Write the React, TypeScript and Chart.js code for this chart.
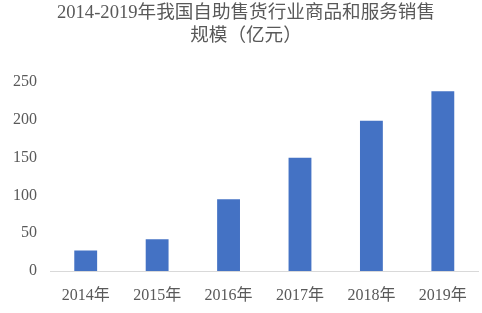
import React, { useEffect, useRef } from "react";
import { Chart, registerables } from "chart.js";

Chart.register(...registerables);

const categories = ["2014年", "2015年", "2016年", "2017年", "2018年", "2019年"];
const salesValues = [27, 42, 95, 150, 199, 238];
const titleLines = ["2014-2019年我国自助售货行业商品和服务销售", "规模（亿元）"];
const yTicks = [0, 50, 100, 150, 200, 250];

const FONT = "'Liberation Serif', 'Noto Sans CJK SC', serif";

export default function App() {
  const ref = useRef<HTMLCanvasElement | null>(null);

  useEffect(() => {
    document.body.style.margin = "0";
    const canvas = ref.current;
    if (!canvas) return;
    const chart = new Chart(canvas, {
      type: "bar",
      data: {
        labels: categories,
        datasets: [
          {
            label: "销售规模",
            data: salesValues,
            backgroundColor: "#4472C4",
            borderWidth: 0,
            barPercentage: 0.32,
            categoryPercentage: 1,
          },
        ],
      },
      options: {
        animation: false,
        responsive: false,
        maintainAspectRatio: false,
        layout: { padding: { left: 12, right: 2, top: 0, bottom: 0 } },
        plugins: {
          legend: { display: false },
          tooltip: { enabled: false },
          title: {
            display: true,
            text: titleLines,
            color: "#595959",
            font: { family: FONT, size: 18.6, weight: "normal", lineHeight: 1.24 },
            padding: { top: 2, bottom: 34 },
          },
        },
        scales: {
          x: {
            grid: { display: false, drawTicks: false },
            border: { display: true, color: "#d9d9d9", width: 1 },
            ticks: {
              color: "#595959",
              font: { family: FONT, size: 16 },
              padding: 15,
              maxRotation: 0,
            },
            afterFit: (scale: any) => {
              scale.height = 42;
            },
          },
          y: {
            min: 0,
            max: 250,
            afterBuildTicks: (scale: any) => {
              scale.ticks = yTicks.map((v) => ({ value: v }));
            },
            grid: { display: false, drawTicks: false },
            border: { display: false },
            ticks: {
              color: "#595959",
              font: { family: FONT, size: 16 },
              padding: 13,
            },
            afterFit: (scale: any) => {
              scale.width = 38;
            },
          },
        },
      },
    });
    return () => chart.destroy();
  }, []);

  return (
    <div style={{ width: 482, height: 313, background: "#fff" }}>
      <canvas ref={ref} width={482} height={313} style={{ display: "block" }} />
    </div>
  );
}
